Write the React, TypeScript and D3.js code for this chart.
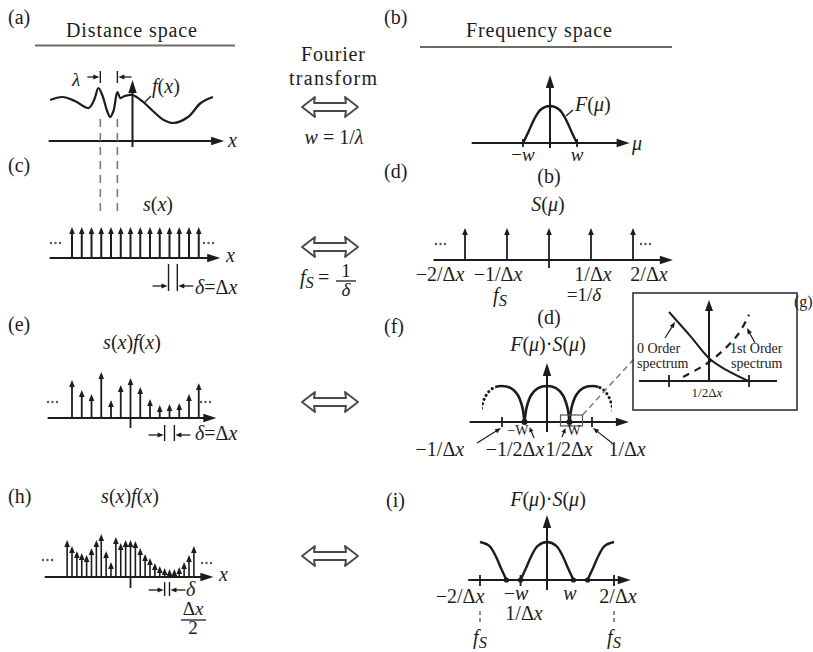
import React from "react";
import * as d3 from "d3";

const WIDTH = 813;
const HEIGHT = 652;
const INK = "#1c1c1c";
const RULE = "#6e6a64";
const SERIF = "'Liberation Serif', 'Times New Roman', serif";

// ---------- distance space ----------
// continuous signal f(x); x in units of the sampling interval Δx
const signalX = [-8.45, -7.2, -5.9, -4.5, -3.9, -3.5, -3.1, -2.6, -2.3, -1.95, -1.55, -1.25, -0.8, 0, 1.1, 2.2, 3.2, 4.2, 5.7, 7.0, 8.25];
const signalY = [4.1, 4.4, 4.0, 3.3, 4.2, 5.3, 4.6, 3.0, 2.4, 3.0, 4.9, 4.3, 4.5, 4.6, 3.9, 2.9, 2.1, 1.8, 2.4, 3.8, 4.4];
// two neighbouring features one wavelength λ apart
const lambdaMarks = [-3.3, -1.55];

// sampling comb s(x): sample indices at spacing Δx
const combIndex = [-6, -5, -4, -3, -2, -1, 0, 1, 2, 3, 4, 5, 6, 7];
// s(x)f(x) sampled at spacing Δx
const sampledAmp = [3.8, 2.8, 2.4, 4.6, 1.8, 3.3, 4.0, 3.1, 1.9, 1.3, 1.4, 1.5, 2.4, 3.5];
// s(x)f(x) sampled at spacing Δx/2 (index counts half intervals)
const halfIndex = [-13, -12, -11, -10, -9, -8, -7, -6, -5, -4, -3, -2, -1, 0, 1, 2, 3, 4, 5, 6, 7, 8, 9, 10, 11, 12, 13];
const halfAmp = [3.7, 3.1, 2.6, 2.4, 2.2, 2.9, 3.7, 4.3, 2.6, 1.5, 4.0, 3.4, 3.7, 3.7, 3.6, 2.9, 2.3, 1.9, 1.4, 1.1, 0.9, 0.8, 0.8, 1.0, 1.5, 2.2, 3.1];
// interval markers, in Δx
const deltaMarksC = [3.9, 4.8];
const deltaMarksE = [3.5, 4.5];
const deltaMarksH = [3.5, 4.0];

// ---------- frequency space ----------
// S(μ): impulses at multiples of 1/Δx
const combOrders = [-2, -1, 0, 1, 2];
const combLabels = ["−2/Δx", "−1/Δx", "", "1/Δx", "2/Δx"];
// band-limited spectrum F(μ), u in units of w
const bellU = [-1, -0.8, -0.6, -0.35, 0, 0.35, 0.6, 0.8, 1];
const bellV = [0, 0.3, 0.62, 0.9, 1, 0.9, 0.62, 0.3, 0];
// overlapping lobes when under-sampled, u in units of the half-lobe width
const archU = [-1, -0.9, -0.7, -0.4, 0, 0.4, 0.7, 0.9, 1];
const archV = [0, 0.42, 0.75, 0.94, 1, 0.94, 0.75, 0.42, 0];
const aliasOrders = [-1, 0, 1];
const aliasLabels = ["−1/Δx", "−1/2Δx", "1/2Δx", "1/Δx"];
// over-sampled case: lobes at ±2/Δx, bandwidth w in units of 1/Δx
const overOrders = [-2, 0, 2];
const overW = 0.79;
// inset: 0th-order tail and 1st-order tail near 1/2Δx
const zeroOrderU = [-1.0, -0.45, 0, 0.43, 0.98];
const zeroOrderV = [1.0, 0.64, 0.33, 0.16, 0];
const firstOrderU = [-0.65, -0.2, 0.17, 0.72, 1.0];
const firstOrderV = [0.06, 0.2, 0.35, 0.67, 0.96];

type Pt = [number, number];
type Scale = d3.ScaleLinear<number, number>;

const zip = (a: number[], b: number[]): Pt[] => a.map((v, i) => [v, b[i]]);

function headPts(x: number, y: number, ang: number, len: number, half: number) {
  const c = Math.cos(ang);
  const s = Math.sin(ang);
  const bx = x - len * c;
  const by = y - len * s;
  return `${x},${y} ${bx - half * s},${by + half * c} ${bx + half * s},${by - half * c}`;
}

function Arrow({ x1, y1, x2, y2, w = 1.6, len = 8, half = 3, color = INK }: any) {
  const a = Math.atan2(y2 - y1, x2 - x1);
  const ex = x2 - len * 0.7 * Math.cos(a);
  const ey = y2 - len * 0.7 * Math.sin(a);
  return (
    <g>
      <line x1={x1} y1={y1} x2={ex} y2={ey} stroke={color} strokeWidth={w} />
      <polygon points={headPts(x2, y2, a, len, half)} fill={color} />
    </g>
  );
}

function Axis({ x1, y1, x2, y2 }: any) {
  return <Arrow x1={x1} y1={y1} x2={x2} y2={y2} w={2} len={13} half={4.2} />;
}

function DoubleArrow({ cx, cy }: { cx: number; cy: number }) {
  const L = 28, hl = 13, hh = 10, sh = 4;
  const d = [
    [cx - L, cy], [cx - L + hl, cy - hh], [cx - L + hl - 1, cy - sh], [cx + L - hl + 1, cy - sh],
    [cx + L - hl, cy - hh], [cx + L, cy], [cx + L - hl, cy + hh], [cx + L - hl + 1, cy + sh],
    [cx - L + hl - 1, cy + sh], [cx - L + hl, cy + hh],
  ];
  return (
    <path d={`M${d.map((p) => p.join(",")).join("L")}Z`} fill="#fff" stroke="#4a4a44"
      strokeWidth={1.9} strokeLinejoin="round" />
  );
}

function Dots({ x, y }: { x: number; y: number }) {
  return (
    <g fill="#555">
      {[0, 4.5, 9].map((d) => <circle key={d} cx={x + d} cy={y} r={1.2} />)}
    </g>
  );
}

const ITALIC = new Set(["x", "w", "f", "s", "F", "S", "μ", "λ", "δ"]);

function MathText({ x, y, text, size = 20, anchor = "start" }: any) {
  const parts: [string, boolean][] = [];
  for (const ch of text) {
    const it = ITALIC.has(ch);
    const last = parts[parts.length - 1];
    if (last && last[1] === it) last[0] += ch;
    else parts.push([ch, it]);
  }
  return (
    <text x={x} y={y} fontSize={size} textAnchor={anchor} fontFamily={SERIF} fill={INK}>
      {parts.map(([t, it], i) => (
        <tspan key={i} fontStyle={it ? "italic" : "normal"}>{t}</tspan>
      ))}
    </text>
  );
}

function Label({ x, y, text, size = 20, anchor = "start", len }: any) {
  return (
    <text x={x} y={y} fontSize={size} textAnchor={anchor} fontFamily={SERIF} fill={INK}
      textLength={len} lengthAdjust={len ? "spacing" : undefined}>
      {text}
    </text>
  );
}

function Fs({ x, y, size = 20, anchor = "start" }: any) {
  return (
    <text x={x} y={y} fontSize={size} textAnchor={anchor} fontFamily={SERIF} fill={INK} fontStyle="italic">
      <tspan>f</tspan>
      <tspan fontSize={size * 0.82} dy={size * 0.2}>S</tspan>
    </text>
  );
}

function curvePath(xs: Scale, ys: Scale, pts: Pt[]) {
  return d3.line<Pt>().x((d) => xs(d[0])).y((d) => ys(d[1])).curve(d3.curveCatmullRom.alpha(0.5))(pts) || "";
}

function Stems({ xs, ys, idx, amp, w = 1.8 }: any) {
  return (
    <g>
      {idx.map((k: number, i: number) => (
        <Arrow key={i} x1={xs(k)} y1={ys(0)} x2={xs(k)} y2={ys(amp[i])} w={w} len={7} half={2.8} />
      ))}
    </g>
  );
}

function DeltaMarker({ xs, marks, yTop, yBot, yArr }: any) {
  const [a, b] = marks.map((m: number) => xs(m));
  return (
    <g>
      <line x1={a} y1={yTop} x2={a} y2={yBot} stroke={INK} strokeWidth={1.4} />
      <line x1={b} y1={yTop} x2={b} y2={yBot} stroke={INK} strokeWidth={1.4} />
      <Arrow x1={a - 16} y1={yArr} x2={a - 1} y2={yArr} w={1.3} len={6} half={2.5} />
      <Arrow x1={b + 16} y1={yArr} x2={b + 1} y2={yArr} w={1.3} len={6} half={2.5} />
    </g>
  );
}

export default function App() {
  // ---- scales ----
  const xa = d3.scaleLinear().domain([0, 1]).range([132.5, 142.25]);
  const ya = d3.scaleLinear().domain([0, 1]).range([141, 131]);
  const xr = d3.scaleLinear().domain([0, 1]).range([130.5, 140.25]);
  const yc = d3.scaleLinear().domain([0, 1]).range([258, 227]);
  const ye = d3.scaleLinear().domain([0, 1]).range([418, 408]);
  const yh = d3.scaleLinear().domain([0, 1]).range([577, 567]);

  const xb = d3.scaleLinear().domain([0, 1]).range([550, 577]);
  const yb = d3.scaleLinear().domain([0, 1]).range([143, 106]);
  const xd = d3.scaleLinear().domain([0, 1]).range([549, 591]);
  const yd = d3.scaleLinear().domain([0, 1]).range([260, 228]);
  const xf = d3.scaleLinear().domain([0, 1]).range([547, 592]);
  const yf = d3.scaleLinear().domain([0, 1]).range([422, 386]);
  const xi = d3.scaleLinear().domain([0, 1]).range([547, 580.5]);
  const yi = d3.scaleLinear().domain([0, 1]).range([580, 542]);
  const xg = d3.scaleLinear().domain([-1, 1]).range([669, 749]);
  const yg = d3.scaleLinear().domain([0, 1]).range([381, 312]);

  const signal = zip(signalX, signalY);
  const bell = zip(bellU, bellV);
  const arch = zip(archU, archV);

  const lobe = (center: number, half: number, pts: Pt[]) => pts.map(([u, v]) => [center + u * half, v] as Pt);

  const leftCut = xf(-1.15);
  const rightCut = xf(1.15);

  return (
    <svg width={WIDTH} height={HEIGHT} style={{ position: "absolute", left: 0, top: 0, background: "#fff" }}>
      <defs>
        <clipPath id="leftSolid"><rect x={leftCut} y={300} width={200} height={200} /></clipPath>
        <clipPath id="leftDots"><rect x={482} y={300} width={leftCut - 482} height={200} /></clipPath>
        <clipPath id="rightSolid"><rect x={400} y={300} width={rightCut - 400} height={200} /></clipPath>
        <clipPath id="rightDots"><rect x={rightCut} y={300} width={612 - rightCut} height={200} /></clipPath>
      </defs>
      <rect width={WIDTH} height={HEIGHT} fill="#fff" />

      {/* column headings */}
      <Label x={8} y={24} text="(a)" />
      <Label x={66} y={37} text="Distance space" len={131} />
      <line x1={35} y1={45.5} x2={235} y2={45.5} stroke={RULE} strokeWidth={2} />
      <Label x={384} y={24} text="(b)" />
      <Label x={466} y={37} text="Frequency space" len={146} />
      <line x1={420} y1={47} x2={672} y2={47} stroke={RULE} strokeWidth={2} />

      {/* (a) f(x) */}
      <Axis x1={xa(-8.6)} y1={ya(0)} x2={xa(9.4)} y2={ya(0)} />
      <Axis x1={xa(0)} y1={147} x2={xa(0)} y2={ya(6.1)} />
      <path d={curvePath(xa, ya, signal)} fill="none" stroke={INK} strokeWidth={2.2} />
      <MathText x={228} y={147} text="x" />
      <MathText x={152} y={93} text="f(x)" />
      <line x1={151} y1={96} x2={144} y2={103} stroke={INK} strokeWidth={1.3} />
      <MathText x={72} y={86} text="λ" size={19} />
      {lambdaMarks.map((m) => (
        <g key={m}>
          <line x1={xa(m)} y1={71} x2={xa(m)} y2={83} stroke={INK} strokeWidth={1.4} />
          <line x1={xa(m)} y1={119} x2={xa(m)} y2={213} stroke="#7a7a7a" strokeWidth={1.6} strokeDasharray="8 6" />
        </g>
      ))}
      <Arrow x1={xa(lambdaMarks[0]) - 13} y1={77} x2={xa(lambdaMarks[0]) - 1} y2={77} w={1.3} len={6} half={2.5} />
      <Arrow x1={xa(0) - 1} y1={77} x2={xa(lambdaMarks[1]) + 1} y2={77} w={1.3} len={6} half={2.5} />

      {/* (c) s(x) */}
      <Label x={8} y={172} text="(c)" />
      <MathText x={143} y={211} text="s(x)" />
      <Axis x1={xr(-8.3)} y1={yc(0)} x2={xr(9.2)} y2={yc(0)} />
      <Stems xs={xr} ys={yc} idx={combIndex} amp={combIndex.map(() => 1)} w={2} />
      <Dots x={51} y={243} />
      <Dots x={204} y={243} />
      <MathText x={226} y={262} text="x" />
      <DeltaMarker xs={xr} marks={deltaMarksC} yTop={264} yBot={291} yArr={286} />
      <MathText x={195} y={294} text="δ=Δx" />

      {/* (e) s(x)f(x), spacing Δx */}
      <Label x={8} y={331} text="(e)" />
      <MathText x={132} y={349} text="s(x)f(x)" anchor="middle" />
      <Axis x1={xr(-8.5)} y1={ye(0)} x2={xr(8.8)} y2={ye(0)} />
      <line x1={xr(0)} y1={ye(0)} x2={xr(0)} y2={428} stroke={INK} strokeWidth={1.8} />
      <Stems xs={xr} ys={ye} idx={combIndex} amp={sampledAmp} />
      <Dots x={48} y={402} />
      <Dots x={201} y={402} />
      <DeltaMarker xs={xr} marks={deltaMarksE} yTop={425} yBot={441} yArr={435} />
      <MathText x={195} y={440} text="δ=Δx" />

      {/* (h) s(x)f(x), spacing Δx/2 */}
      <Label x={8} y={503} text="(h)" />
      <MathText x={130} y={503} text="s(x)f(x)" anchor="middle" />
      <Axis x1={xr(-8.8)} y1={yh(0)} x2={xr(8.5)} y2={yh(0)} />
      <line x1={xr(0)} y1={yh(0)} x2={xr(0)} y2={588} stroke={INK} strokeWidth={1.8} />
      <Stems xs={(k: number) => xr(k * 0.5)} ys={yh} idx={halfIndex} amp={halfAmp} w={1.6} />
      <Dots x={43} y={560} />
      <Dots x={202} y={563} />
      <MathText x={219} y={581} text="x" />
      <DeltaMarker xs={xr} marks={deltaMarksH} yTop={582} yBot={596} yArr={590} />
      <MathText x={186} y={596} text="δ" />
      <MathText x={193} y={615} text="Δx" size={19} anchor="middle" />
      <line x1={181} y1={620} x2={206} y2={620} stroke={INK} strokeWidth={1.3} />
      <Label x={193} y={634} text="2" size={19} anchor="middle" />

      {/* Fourier transform pairs */}
      <Label x={333} y={61} text="Fourier" anchor="middle" len={64} />
      <Label x={333} y={85} text="transform" anchor="middle" len={88} />
      <DoubleArrow cx={330} cy={107} />
      <MathText x={334} y={144} text="w = 1/λ" anchor="middle" />
      <DoubleArrow cx={330} cy={247} />
      <Fs x={300} y={284} />
      <Label x={318} y={284} text="=" />
      <Label x={346} y={277} text="1" anchor="middle" size={19} />
      <line x1={336} y1={281} x2={356} y2={281} stroke={INK} strokeWidth={1.3} />
      <MathText x={346} y={296} text="δ" anchor="middle" size={19} />
      <DoubleArrow cx={330} cy={402} />
      <DoubleArrow cx={330} cy={556} />

      {/* (b) F(μ) */}
      <Axis x1={xb(-2.9)} y1={yb(0)} x2={xb(2.95)} y2={yb(0)} />
      <Axis x1={xb(0)} y1={148} x2={xb(0)} y2={75} />
      <path d={curvePath(xb, yb, bell)} fill="none" stroke={INK} strokeWidth={2.4} />
      {[-1, 1].map((u) => (
        <line key={u} x1={xb(u)} y1={139} x2={xb(u)} y2={147} stroke={INK} strokeWidth={1.8} />
      ))}
      <MathText x={575} y={111} text="F(μ)" />
      <line x1={573} y1={110} x2={566} y2={116} stroke={INK} strokeWidth={1.3} />
      <MathText x={632} y={150} text="μ" />
      <MathText x={xb(-1)} y={161} text="−w" anchor="middle" size={19} />
      <MathText x={xb(1)} y={161} text="w" anchor="middle" size={19} />

      {/* (d) S(μ) */}
      <Label x={384} y={178} text="(d)" />
      <Label x={549} y={183} text="(b)" anchor="middle" />
      <MathText x={548} y={211} text="S(μ)" anchor="middle" />
      <Axis x1={xd(-2.75)} y1={yd(0)} x2={xd(2.95)} y2={yd(0)} />
      <line x1={xd(0)} y1={yd(0)} x2={xd(0)} y2={268} stroke={INK} strokeWidth={1.8} />
      <Stems xs={xd} ys={yd} idx={combOrders} amp={combOrders.map(() => 1)} w={1.8} />
      <Dots x={436} y={244} />
      <Dots x={641} y={244} />
      {combLabels.map((t, i) =>
        t ? (
          <MathText key={i} x={xd(combOrders[i]) + [-25, -9, 0, 2, 16][i]} y={281} text={t} anchor="middle" />
        ) : null
      )}
      <Fs x={500} y={302} anchor="middle" />
      <MathText x={584} y={301} text="=1/δ" anchor="middle" size={19} />

      {/* (f) F(μ)·S(μ), under-sampled */}
      <Label x={384} y={333} text="(f)" />
      <Label x={549} y={324} text="(d)" anchor="middle" />
      <MathText x={548} y={351} text="F(μ)·S(μ)" anchor="middle" />
      <Axis x1={xf(-1.72)} y1={yf(0)} x2={xf(1.82)} y2={yf(0)} />
      <Axis x1={xf(0)} y1={432} x2={xf(0)} y2={363} />
      {[-1, 1].map((u) => (
        <line key={u} x1={xf(u)} y1={417} x2={xf(u)} y2={427} stroke={INK} strokeWidth={1.8} />
      ))}
      <path d={curvePath(xf, yf, lobe(aliasOrders[1], 0.5, arch))} fill="none" stroke={INK} strokeWidth={2.6} />
      <path d={curvePath(xf, yf, lobe(aliasOrders[0], 0.5, arch))} fill="none" stroke={INK} strokeWidth={2.6}
        clipPath="url(#leftSolid)" />
      <path d={curvePath(xf, yf, lobe(aliasOrders[2], 0.5, arch))} fill="none" stroke={INK} strokeWidth={2.6}
        clipPath="url(#rightSolid)" />
      <path d={curvePath(xf, yf, lobe(aliasOrders[0], 0.5, arch))} fill="none" stroke={INK} strokeWidth={3}
        strokeLinecap="round" strokeDasharray="0.1 4.5" clipPath="url(#leftDots)" />
      <path d={curvePath(xf, yf, lobe(aliasOrders[2], 0.5, arch))} fill="none" stroke={INK} strokeWidth={3}
        strokeLinecap="round" strokeDasharray="0.1 4.5" clipPath="url(#rightDots)" />
      {[-0.5, 0.5].map((u) => (
        <circle key={u} cx={xf(u)} cy={yf(0)} r={3} fill={INK} />
      ))}
      <rect x={xf(0.5) - 9} y={415} width={22} height={11} fill="none" stroke="#555" strokeWidth={1.2} />
      <line x1={xf(0.5) + 13} y1={415} x2={633} y2={360} stroke="#7a7a7a" strokeWidth={1.5} strokeDasharray="6 4" />
      <Label x={518} y={435} text="−W" anchor="middle" size={14} />
      <Label x={574} y={435} text="W" anchor="middle" size={14} />
      <Arrow x1={477} y1={443} x2={xf(-1) - 1} y2={428} w={1.2} len={6} half={2.4} />
      <Arrow x1={612} y1={443} x2={xf(1) + 1} y2={428} w={1.2} len={6} half={2.4} />
      <Arrow x1={534} y1={438} x2={xf(-0.5) + 5} y2={427} w={1.2} len={5} half={2.2} />
      <Arrow x1={562} y1={437} x2={xf(0.5) - 4} y2={428} w={1.2} len={5} half={2.2} />
      {aliasLabels.map((t, i) => (
        <MathText key={i} x={xf([-2.38, -0.71, 0.49, 1.78][i])} y={456} text={t} anchor="middle" />
      ))}

      {/* (g) inset near 1/2Δx */}
      <rect x={633} y={293} width={164} height={117} fill="#fff" stroke="#333" strokeWidth={1.6} />
      <line x1={639} y1={yg(0)} x2={777} y2={yg(0)} stroke={INK} strokeWidth={2} />
      <Arrow x1={xg(0)} y1={yg(0)} x2={xg(0)} y2={300} w={2} len={11} half={4} />
      {[-1, 1].map((u) => (
        <line key={u} x1={xg(u)} y1={yg(0) - 6} x2={xg(u)} y2={yg(0) + 6} stroke={INK} strokeWidth={1.8} />
      ))}
      <path d={curvePath(xg, yg, zip(zeroOrderU, zeroOrderV))} fill="none" stroke={INK} strokeWidth={2} />
      <path d={curvePath(xg, yg, zip(firstOrderU, firstOrderV))} fill="none" stroke={INK} strokeWidth={2.2}
        strokeDasharray="7 6" />
      <Label x={637} y={353} text="0 Order" size={14} />
      <Label x={637} y={368} text="spectrum" size={14} />
      <Label x={730} y={353} text="1st Order" size={14} />
      <Label x={731} y={368} text="spectrum" size={14} />
      <Arrow x1={665} y1={338} x2={675} y2={322} w={1.2} len={6} half={2.4} />
      <Arrow x1={755} y1={343} x2={747} y2={328} w={1.2} len={6} half={2.4} />
      <MathText x={707} y={397} text="1/2Δx" size={13} anchor="middle" />
      <Label x={794} y={307} text="(g)" size={16} />

      {/* (i) F(μ)·S(μ), over-sampled */}
      <Label x={386} y={507} text="(i)" />
      <MathText x={548} y={506} text="F(μ)·S(μ)" anchor="middle" />
      <Axis x1={xi(-2.35)} y1={yi(0)} x2={xi(2.5)} y2={yi(0)} />
      <Axis x1={xi(0)} y1={590} x2={xi(0)} y2={515} />
      <path d={curvePath(xi, yi, lobe(overOrders[1], overW, bell))} fill="none" stroke={INK} strokeWidth={2.4} />
      <path d={curvePath(xi, yi, lobe(overOrders[0], overW, bell.filter(([u]) => u >= 0)))} fill="none"
        stroke={INK} strokeWidth={2.4} />
      <path d={curvePath(xi, yi, lobe(overOrders[2], overW, bell.filter(([u]) => u <= 0)))} fill="none"
        stroke={INK} strokeWidth={2.4} />
      {[overOrders[0] + overW, -overW, overW, overOrders[2] - overW].map((u) => (
        <circle key={u} cx={xi(u)} cy={yi(0)} r={2.6} fill={INK} />
      ))}
      {[overOrders[0], -overW, overOrders[2]].map((u) => (
        <line key={u} x1={xi(u)} y1={575} x2={xi(u)} y2={586} stroke={INK} strokeWidth={1.8} />
      ))}
      {[overOrders[0], overOrders[2]].map((u) => (
        <line key={u} x1={xi(u)} y1={611} x2={xi(u)} y2={623} stroke="#666" strokeWidth={1.5} strokeDasharray="4 3" />
      ))}
      <MathText x={460} y={603} text="−2/Δx" anchor="middle" />
      <MathText x={516} y={600} text="−w" anchor="middle" />
      <MathText x={524} y={620} text="1/Δx" anchor="middle" />
      <MathText x={570} y={600} text="w" anchor="middle" />
      <MathText x={618} y={603} text="2/Δx" anchor="middle" />
      <Fs x={xi(overOrders[0])} y={644} anchor="middle" />
      <Fs x={xi(overOrders[2])} y={644} anchor="middle" />
    </svg>
  );
}
